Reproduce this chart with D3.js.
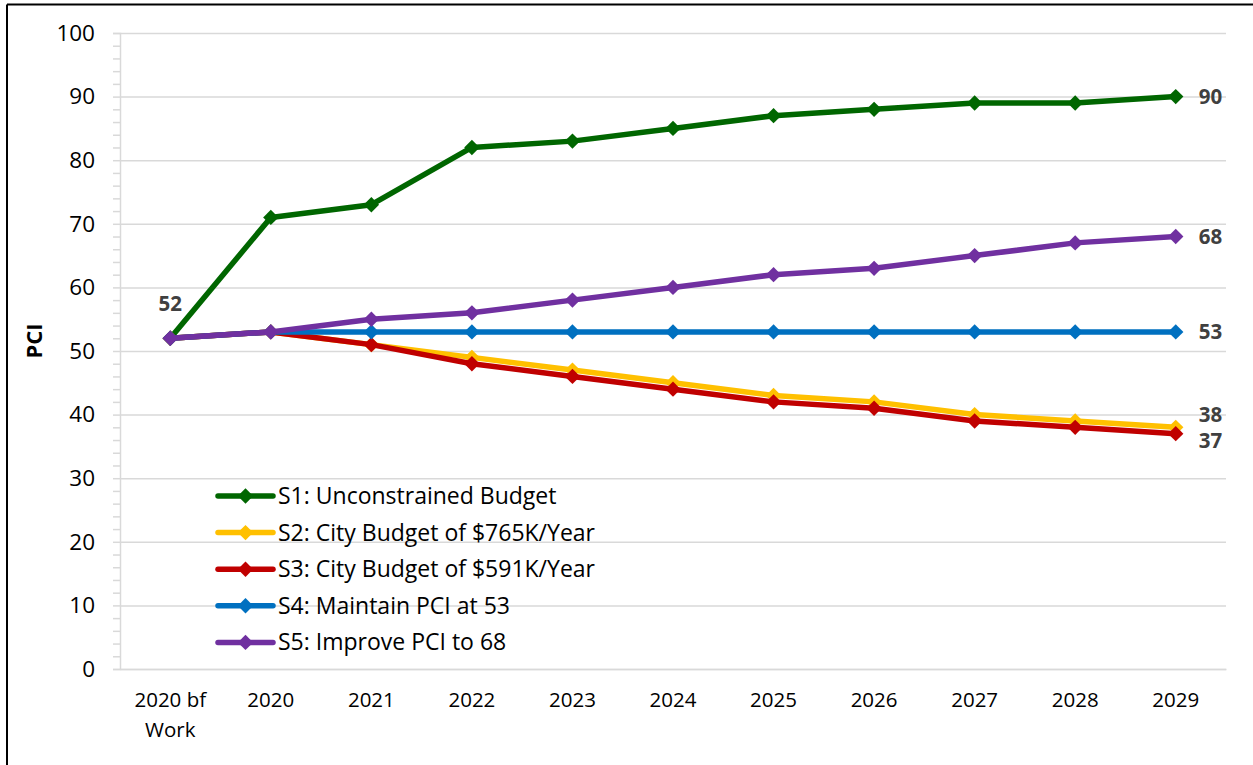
<!DOCTYPE html>
<html>
<head>
<meta charset="utf-8">
<script src="https://cdn.jsdelivr.net/npm/d3@7"></script>
<style>
  body { margin: 0; background: #fff; }
  svg text { font-family: "Open Sans", Lato, sans-serif; }
</style>
</head>
<body>
<div id="chart"></div>
<script>
// Chart data
const categories = ["2020 bf Work", "2020", "2021", "2022", "2023", "2024", "2025", "2026", "2027", "2028", "2029"];
const s1 = [52, 71, 73, 82, 83, 85, 87, 88, 89, 89, 90];
const s2 = [52, 53, 51, 49, 47, 45, 43, 42, 40, 39, 38];
const s3 = [52, 53, 51, 48, 46, 44, 42, 41, 39, 38, 37];
const s4 = [52, 53, 53, 53, 53, 53, 53, 53, 53, 53, 53];
const s5 = [52, 53, 55, 56, 58, 60, 62, 63, 65, 67, 68];
const seriesNames = [
    "S1: Unconstrained Budget",
    "S2: City Budget of $765K/Year",
    "S3: City Budget of $591K/Year",
    "S4: Maintain PCI at 53",
    "S5: Improve PCI to 68"
];
const seriesColors = ["#006600", "#FFC000", "#C00000", "#0070C0", "#7030A0"];
const yTicks = [0, 10, 20, 30, 40, 50, 60, 70, 80, 90, 100];

const series = [s1, s2, s3, s4, s5].map((values, i) => ({
    name: seriesNames[i],
    color: seriesColors[i],
    values: values
}));

// Dimensions
const W = 1253, H = 765;
const plot = { left: 120, right: 1226, top: 33, bottom: 669 };

const svg = d3.select("#chart")
    .append("svg")
    .attr("width", W)
    .attr("height", H);

// Outer frame (top and left edges visible)
svg.append("line")
    .attr("x1", 7).attr("x2", W).attr("y1", 4.5).attr("y2", 4.5)
    .attr("stroke", "#000").attr("stroke-width", 2);
svg.append("line")
    .attr("x1", 7).attr("x2", 7).attr("y1", 4.5).attr("y2", H)
    .attr("stroke", "#000").attr("stroke-width", 2);

// Scales
const x = d3.scaleBand()
    .domain(categories)
    .range([plot.left, plot.right]);
const xc = (d) => x(d) + x.bandwidth() / 2;

const y = d3.scaleLinear()
    .domain([0, 100])
    .range([plot.bottom, plot.top]);

// Gridlines
svg.append("g")
    .attr("class", "grid")
    .attr("transform", `translate(${plot.left},0)`)
    .call(d3.axisLeft(y).tickValues(yTicks).tickSize(-(plot.right - plot.left)).tickFormat(""))
    .call((g) => g.select(".domain").remove())
    .call((g) => g.selectAll("line").attr("stroke", "#d9d9d9").attr("stroke-width", 1.5));

// Y axis: minor ticks every 2
const minorTicks = d3.range(0, 101, 2);
svg.append("g")
    .attr("transform", `translate(${plot.left},0)`)
    .call(d3.axisLeft(y).tickValues(minorTicks).tickSize(7).tickFormat(""))
    .call((g) => g.selectAll("line").attr("stroke", "#d9d9d9").attr("stroke-width", 1.5))
    .call((g) => g.select(".domain").attr("stroke", "#d9d9d9").attr("stroke-width", 1.5));

// Y axis labels
svg.append("g")
    .attr("transform", `translate(${plot.left},0)`)
    .call(d3.axisLeft(y).tickValues(yTicks).tickSize(0).tickPadding(25))
    .call((g) => g.select(".domain").remove())
    .call((g) => g.selectAll("text")
        .attr("font-size", 22.5)
        .attr("fill", "#000")
        .style("font-family", "'Open Sans', sans-serif"));

// X axis
const xAxisG = svg.append("g")
    .attr("transform", `translate(0,${plot.bottom})`)
    .call(d3.axisBottom(x).tickSize(0).tickFormat(""));
xAxisG.select(".domain").attr("stroke", "#d9d9d9").attr("stroke-width", 1.5);

const xLabels = svg.append("g");
categories.forEach((c) => {
    const words = c === "2020 bf Work" ? ["2020 bf", "Work"] : [c];
    const t = xLabels.append("text")
        .attr("x", xc(c))
        .attr("y", 707)
        .attr("text-anchor", "middle")
        .attr("font-size", 20.5)
        .attr("fill", "#000");
    words.forEach((w, i) => {
        t.append("tspan")
            .attr("x", xc(c))
            .attr("dy", i === 0 ? 0 : 30)
            .text(w);
    });
});

// Y axis title
svg.append("text")
    .attr("transform", `translate(42,${(plot.top + plot.bottom) / 2 - 10}) rotate(-90)`)
    .attr("text-anchor", "middle")
    .attr("font-size", 22)
    .attr("font-weight", "bold")
    .attr("fill", "#000")
    .text("PCI");

// Lines and markers
const line = d3.line()
    .x((d, i) => xc(categories[i]))
    .y((d) => y(d));

// square diamond (equal width and height)
const diamond = d3.symbol().type(d3.symbolSquare).size(118);

series.forEach((s) => {
    const g = svg.append("g");
    g.append("path")
        .datum(s.values)
        .attr("fill", "none")
        .attr("stroke", s.color)
        .attr("stroke-width", 5.5)
        .attr("stroke-linejoin", "round")
        .attr("d", line);
    g.selectAll("path.marker")
        .data(s.values)
        .join("path")
        .attr("class", "marker")
        .attr("transform", (d, i) => `translate(${xc(categories[i])},${y(d)}) rotate(45)`)
        .attr("d", diamond)
        .attr("fill", s.color);
});

// Data labels
const labelStyle = (t) => t
    .attr("font-size", 20.5)
    .attr("font-weight", "bold")
    .attr("fill", "#404040");

const last = categories.length - 1;
svg.append("text")
    .attr("x", xc(categories[0]))
    .attr("y", y(s1[0]) - 27)
    .attr("text-anchor", "middle")
    .call(labelStyle)
    .text(s1[0]);

[
    { v: s1[last], dy: 0 },
    { v: s5[last], dy: 0 },
    { v: s4[last], dy: 0 },
    { v: s2[last], dy: -12 },
    { v: s3[last], dy: 7 }
].forEach((d) => {
    svg.append("text")
        .attr("x", xc(categories[last]) + 23)
        .attr("y", y(d.v) + d.dy)
        .attr("dy", "0.35em")
        .call(labelStyle)
        .text(d.v);
});

// Legend
const legend = svg.append("g").attr("transform", "translate(218,496)");
series.forEach((s, i) => {
    const row = legend.append("g").attr("transform", `translate(0,${i * 36.6})`);
    row.append("line")
        .attr("x1", 0).attr("x2", 55)
        .attr("stroke", s.color)
        .attr("stroke-width", 5.5)
        .attr("stroke-linecap", "round");
    row.append("path")
        .attr("transform", "translate(27.5,0) rotate(45)")
        .attr("d", diamond)
        .attr("fill", s.color);
    row.append("text")
        .attr("x", 60)
        .attr("dy", "0.35em")
        .attr("font-size", 23)
        .attr("fill", "#000")
        .text(s.name);
});
</script>
</body>
</html>
